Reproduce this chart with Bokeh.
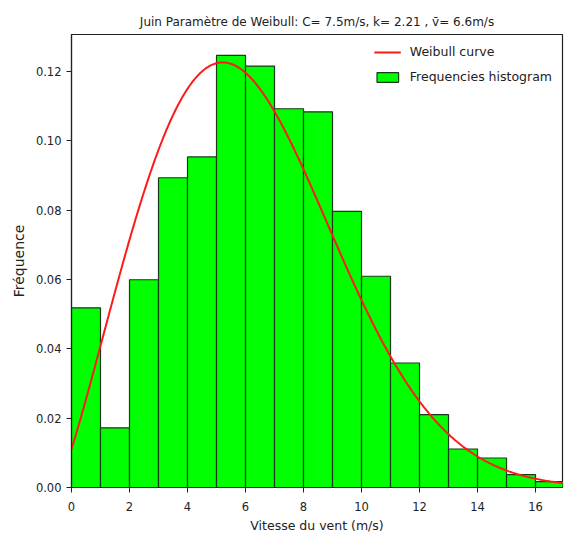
import numpy as np
from bokeh.plotting import figure
from bokeh.models import (Range1d, FixedTicker, PrintfTickFormatter, Legend,
                          LegendItem, ColumnDataSource)
from bokeh.embed import file_html
from bokeh.resources import INLINE

# Histogram of June wind speeds (relative frequency per 1 m/s bin)
bin_left = [0, 1, 2, 3, 4, 5, 6, 7, 8, 9, 10, 11, 12, 13, 14, 15, 16]
bin_right = [1, 2, 3, 4, 5, 6, 7, 8, 9, 10, 11, 12, 13, 14, 15, 16, 17]
frequencies = [0.0518, 0.0172, 0.0599, 0.0893, 0.0953, 0.1246, 0.1215,
               0.1092, 0.1083, 0.0796, 0.0609, 0.0359, 0.0210, 0.0111,
               0.0085, 0.0037, 0.0017]

# Weibull parameters
C = 7.5      # scale (m/s)
k = 2.21     # shape
v_mean = 6.6 # mean speed (m/s)

x_ticks = [0, 2, 4, 6, 8, 10, 12, 14, 16]
y_ticks = [0.00, 0.02, 0.04, 0.06, 0.08, 0.10, 0.12]

FONT = "DejaVu Sans"

p = figure(width=564, height=546, output_backend="svg", toolbar_location=None,
           x_range=Range1d(0, 16.93), y_range=Range1d(0, 0.1306),
           min_border_left=71, min_border_right=2,
           min_border_top=34, min_border_bottom=59)

p.title.text = ("Juin Paramètre de Weibull: C= %sm/s, k= %s , v\u0304= %sm/s"
                % (C, k, v_mean))
p.title.align = "center"
p.title.text_font = FONT
p.title.text_font_size = "12px"
p.title.text_font_style = "normal"
p.title.text_color = "#222222"
p.title.offset = 0
p.title.standoff = 11

hist_src = ColumnDataSource(dict(left=bin_left, right=bin_right,
                                 top=frequencies,
                                 bottom=[0] * len(frequencies)))
bars = p.quad(left="left", right="right", top="top", bottom="bottom",
              source=hist_src, fill_color="#00ff00", line_color="#1a3a1a",
              line_width=1.2)

# Weibull density, drawn half a bin to the left (pdf taken at bin centres)
xs = np.linspace(0, 17, 400)
v = xs + 0.5
pdf = (k / C) * (v / C) ** (k - 1) * np.exp(-(v / C) ** k)
curve = p.line(xs, pdf, line_color="#ff1a1a", line_width=2)

legend = Legend(items=[LegendItem(label="Weibull curve", renderers=[curve]),
                       LegendItem(label="Frequencies histogram", renderers=[bars])],
                location="top_right", border_line_color=None,
                background_fill_alpha=0, margin=10, padding=10,
                glyph_width=27, glyph_height=12, label_standoff=9,
                spacing=10, label_text_font=FONT, label_text_font_size="12.5px",
                label_text_color="#222222", label_height=12)
p.add_layout(legend)

p.grid.visible = False
p.outline_line_color = "#222222"
p.outline_line_width = 1.2

for ax in (p.xaxis, p.yaxis):
    ax.axis_line_color = "#222222"
    ax.axis_line_width = 1.2
    ax.major_tick_line_color = "#222222"
    ax.major_tick_in = 0
    ax.major_tick_out = 5
    ax.minor_tick_line_color = None
    ax.major_label_text_font = FONT
    ax.major_label_text_font_size = "11.5px"
    ax.major_label_text_color = "#222222"
    ax.axis_label_text_font = FONT
    ax.axis_label_text_font_style = "normal"
    ax.axis_label_text_color = "#222222"

p.xaxis.ticker = FixedTicker(ticks=x_ticks)
p.yaxis.ticker = FixedTicker(ticks=y_ticks)
p.yaxis.formatter = PrintfTickFormatter(format="%.2f")
p.xaxis.axis_label = "Vitesse du vent (m/s)"
p.yaxis.axis_label = "Fréquence"
p.xaxis.axis_label_text_font_size = "12.5px"
p.yaxis.axis_label_text_font_size = "14px"
p.xaxis.major_label_standoff = 9
p.yaxis.major_label_standoff = 5
p.xaxis.axis_label_standoff = 4
p.yaxis.axis_label_standoff = 6

open("out.html", "w").write(file_html(p, INLINE))
